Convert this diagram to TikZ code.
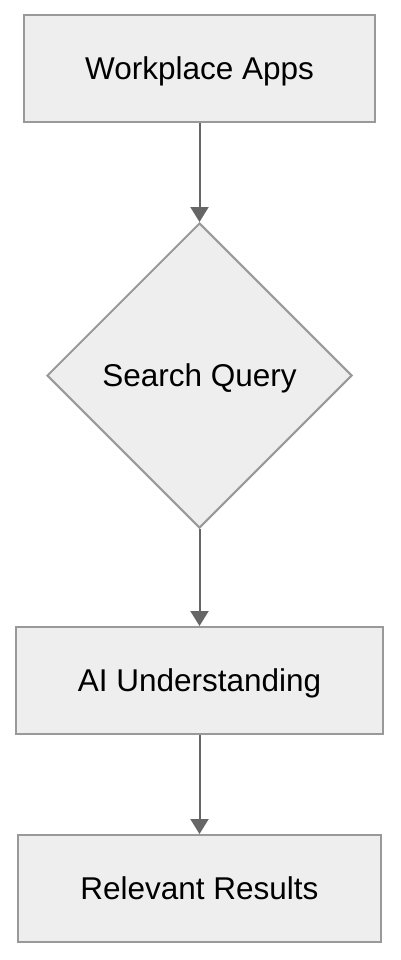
\documentclass[tikz,border=0pt]{standalone}
\usepackage{fontspec}
\setmainfont{Liberation Sans}
\usetikzlibrary{positioning,shapes.geometric,arrows.meta}
\definecolor{boxfill}{HTML}{EEEEEE}
\definecolor{boxline}{HTML}{999999}
\definecolor{arrowgray}{HTML}{666666}
\begin{document}
\begin{tikzpicture}[x=1pt,y=-1pt,node distance=99pt,font=\fontsize{31.5}{38}\selectfont]
    \tikzstyle{block} = [rectangle, draw=boxline, fill=boxfill, line width=2pt, text height=22.6pt, text depth=0pt, minimum height=107pt]
    \tikzstyle{decision} = [diamond, draw=boxline, fill=boxfill, line width=2pt, text height=22.6pt, text depth=0pt, aspect=1, inner sep=0pt, minimum width=305pt, minimum height=305pt]
    \tikzstyle{arrow} = [line width=2pt, draw=arrowgray, ->, >={Triangle[width=18pt,length=15pt,fill=arrowgray]}]
    \useasboundingbox (0,0) rectangle (400,960);
    \node (apps) [block, minimum width=351pt] at (199.5,68.5) {Workplace Apps};
    \node (query) [decision, below=of apps] {Search Query};
    \node (understand) [block, minimum width=367pt, below=97pt of query] {AI Understanding};
    \node (results) [block, minimum width=363pt, below=of understand] {Relevant Results};

    \draw [arrow] (apps) -- (query);
    \draw [arrow] (query) -- (understand);
    \draw [arrow] (understand) -- (results);

\end{tikzpicture}
\end{document}
